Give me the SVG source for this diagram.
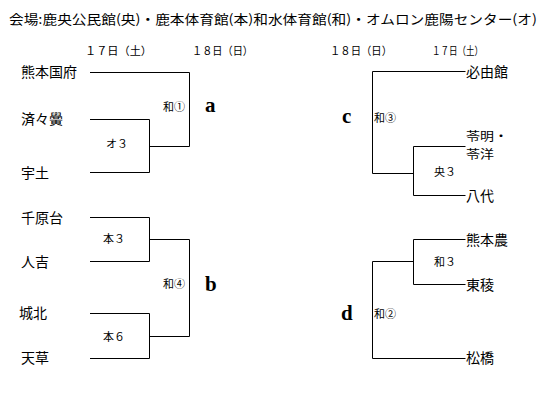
<svg xmlns="http://www.w3.org/2000/svg" width="545" height="395" viewBox="0 0 545 395">
<style>
.t{font-family:"Noto Sans CJK JP","Noto Sans CJK SC",sans-serif;fill:#000}
.h{font-size:13px}
.d{font-size:11px}
.n{font-size:14px}
.m{font-size:12px}
.s{font-size:11px}
.k{font-family:"Liberation Serif",serif;font-weight:bold;font-size:21px;fill:#000}
.c{fill:none;stroke:#000;stroke-width:1}
</style>
<rect width="545" height="395" fill="#fff"/>
<text class="t h" x="9" y="24" textLength="528" lengthAdjust="spacingAndGlyphs">会場:鹿央公民館(央)・鹿本体育館(本)和水体育館(和)・オムロン鹿陽センター(オ)</text>
<g id="dates">
<text class="t d" x="85" y="55" textLength="67" lengthAdjust="spacingAndGlyphs">１７日（土）</text>
<text class="t d" x="192" y="55" textLength="61" lengthAdjust="spacingAndGlyphs">１８日（日）</text>
<text class="t d" x="330" y="55" textLength="62" lengthAdjust="spacingAndGlyphs">１８日（日）</text>
<text class="t d" x="432" y="55" textLength="51" lengthAdjust="spacingAndGlyphs">１７日（土）</text>
</g>
<g id="connectors">
<path class="c" d="M90 72.5H189.5V146.5"/>
<path class="c" d="M90 119.5H149.5V172.5H90"/>
<path class="c" d="M149.5 146.5H189.5"/>
<path class="c" d="M90 217.5H149.5V261.5H90"/>
<path class="c" d="M149.5 239.5H189.5V336.5H149.5"/>
<path class="c" d="M90 313.5H149.5V358.5H90"/>
<path class="c" d="M465.5 71.5H372.5V173.5H413.5"/>
<path class="c" d="M465.5 146.5H413.5V195.5H465.5"/>
<path class="c" d="M465.5 239.5H413.5V284.5H465.5"/>
<path class="c" d="M413.5 261.5H372.5V358.5H465.5"/>
</g>
<g id="team-kumamotokokufu"><text class="t n" x="21" y="77">熊本国府</text></g>
<g id="team-seiseiko"><text class="t n" x="21" y="124">済々黌</text></g>
<g id="team-uto"><text class="t n" x="21" y="178">宇土</text></g>
<g id="team-chiharadai"><text class="t n" x="21" y="223">千原台</text></g>
<g id="team-hitoyoshi"><text class="t n" x="21" y="267">人吉</text></g>
<g id="team-johoku"><text class="t n" x="19" y="318">城北</text></g>
<g id="team-amakusa"><text class="t n" x="21" y="363">天草</text></g>
<g id="team-hitsuyukan"><text class="t n" x="466" y="77">必由館</text></g>
<g id="team-reimei-reiyo"><text class="t m" x="466" y="141" textLength="42" lengthAdjust="spacingAndGlyphs">苓明・</text><text class="t m" x="466" y="158.8" textLength="28" lengthAdjust="spacingAndGlyphs">苓洋</text></g>
<g id="team-yatsushiro"><text class="t n" x="466" y="201">八代</text></g>
<g id="team-kumamotono"><text class="t n" x="466" y="245">熊本農</text></g>
<g id="team-toryo"><text class="t n" x="466" y="290">東稜</text></g>
<g id="team-matsubase"><text class="t n" x="466" y="363">松橋</text></g>
<g id="game-labels">
<text class="t s" x="163" y="111">和①</text>
<text class="t s" x="106" y="148">オ３</text>
<text class="t s" x="103" y="243">本３</text>
<text class="t s" x="103" y="341">本６</text>
<text class="t s" x="163" y="288">和④</text>
<text class="t s" x="374" y="122">和③</text>
<text class="t s" x="434" y="176">央３</text>
<text class="t s" x="434" y="266">和３</text>
<text class="t s" x="374" y="318">和②</text>
</g>
<g id="blocks">
<text class="k" x="205" y="112">a</text>
<text class="k" x="205" y="291">b</text>
<text class="k" x="342" y="123">c</text>
<text class="k" x="341" y="320">d</text>
</g>
</svg>
